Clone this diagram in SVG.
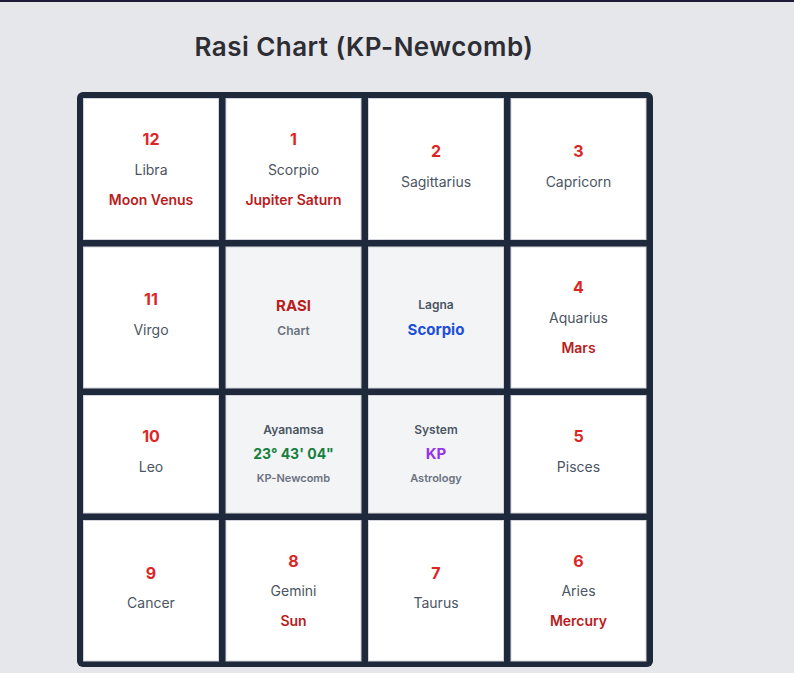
<svg xmlns="http://www.w3.org/2000/svg" width="794" height="673" viewBox="0 0 794 673">
<style>
text{font-family:Inter,"Liberation Sans",Arial,sans-serif;text-anchor:middle}
.title{font-size:26px;font-weight:600;fill:#2d2d33;letter-spacing:0.45px}
.cell{fill:#ffffff;stroke:#d1d5db;stroke-width:1}
.mid{fill:#f3f4f6;stroke:#d1d5db;stroke-width:1}
.num{font-size:16px;font-weight:700;fill:#dc2626}
.sign{font-size:14px;font-weight:400;fill:#4b5563}
.pl{font-size:14px;font-weight:600;fill:#b91c1c}
.lab{font-size:12px;font-weight:600;fill:#4b5563}
.sub{font-size:12px;font-weight:600;fill:#6b7280}
.small{font-size:11px;font-weight:600;fill:#6b7280}
.big{font-size:15px;font-weight:700}
</style>
<rect x="0" y="0" width="794" height="673" fill="#e6e7eb"/>
<rect x="0" y="0" width="794" height="2" fill="#1c1b3a"/>
<text class="title" x="364" y="56">Rasi Chart (KP-Newcomb)</text>
<rect x="77" y="92" width="576" height="575" rx="6" fill="#1e293b"/>
<g id="connectors"/>
<g id="h12"><rect class="cell" x="83.5" y="98.5" width="135" height="141"/><text class="num" x="151" y="144.8">12</text><text class="sign" x="151" y="174.5">Libra</text><text class="pl" x="151" y="204.5">Moon Venus</text></g>
<g id="h1"><rect class="cell" x="226" y="98.5" width="135" height="141"/><text class="num" x="293.5" y="144.8">1</text><text class="sign" x="293.5" y="174.5">Scorpio</text><text class="pl" x="293.5" y="204.5">Jupiter Saturn</text></g>
<g id="h2"><rect class="cell" x="368.5" y="98.5" width="135" height="141"/><text class="num" x="436" y="156.8">2</text><text class="sign" x="436" y="186.5">Sagittarius</text></g>
<g id="h3"><rect class="cell" x="511" y="98.5" width="135" height="141"/><text class="num" x="578.5" y="156.8">3</text><text class="sign" x="578.5" y="186.5">Capricorn</text></g>
<g id="h11"><rect class="cell" x="83.5" y="247" width="135" height="141"/><text class="num" x="151" y="305.3">11</text><text class="sign" x="151" y="335">Virgo</text></g>
<g id="rasi"><rect class="mid" x="226" y="247" width="135" height="141"/><text class="big" x="293.5" y="311" fill="#b91c1c">RASI</text><text class="sub" x="293.5" y="334.5">Chart</text></g>
<g id="lagna"><rect class="mid" x="368.5" y="247" width="135" height="141"/><text class="lab" x="436" y="309">Lagna</text><text x="436" y="335" font-size="15" font-weight="700" fill="#1d4ed8">Scorpio</text></g>
<g id="h4"><rect class="cell" x="511" y="247" width="135" height="141"/><text class="num" x="578.5" y="293.3">4</text><text class="sign" x="578.5" y="323">Aquarius</text><text class="pl" x="578.5" y="353">Mars</text></g>
<g id="h10"><rect class="cell" x="83.5" y="395.5" width="135" height="117.5"/><text class="num" x="151" y="442">10</text><text class="sign" x="151" y="471.75">Leo</text></g>
<g id="ayanamsa"><rect class="mid" x="226" y="395.5" width="135" height="117.5"/><text class="lab" x="293.5" y="434">Ayanamsa</text><text x="293.5" y="459.3" font-size="14" font-weight="700" fill="#15803d">23° 43' 04"</text><text class="small" x="293.5" y="481.7">KP-Newcomb</text></g>
<g id="system"><rect class="mid" x="368.5" y="395.5" width="135" height="117.5"/><text class="lab" x="436" y="434">System</text><text class="big" x="436" y="459.3" fill="#9333ea">KP</text><text class="small" x="436" y="481.7">Astrology</text></g>
<g id="h5"><rect class="cell" x="511" y="395.5" width="135" height="117.5"/><text class="num" x="578.5" y="442">5</text><text class="sign" x="578.5" y="471.75">Pisces</text></g>
<g id="h9"><rect class="cell" x="83.5" y="520.5" width="135" height="140.5"/><text class="num" x="151" y="578.5">9</text><text class="sign" x="151" y="608.25">Cancer</text></g>
<g id="h8"><rect class="cell" x="226" y="520.5" width="135" height="140.5"/><text class="num" x="293.5" y="566.5">8</text><text class="sign" x="293.5" y="596.25">Gemini</text><text class="pl" x="293.5" y="626.25">Sun</text></g>
<g id="h7"><rect class="cell" x="368.5" y="520.5" width="135" height="140.5"/><text class="num" x="436" y="578.5">7</text><text class="sign" x="436" y="608.25">Taurus</text></g>
<g id="h6"><rect class="cell" x="511" y="520.5" width="135" height="140.5"/><text class="num" x="578.5" y="566.5">6</text><text class="sign" x="578.5" y="596.25">Aries</text><text class="pl" x="578.5" y="626.25">Mercury</text></g>
</svg>
